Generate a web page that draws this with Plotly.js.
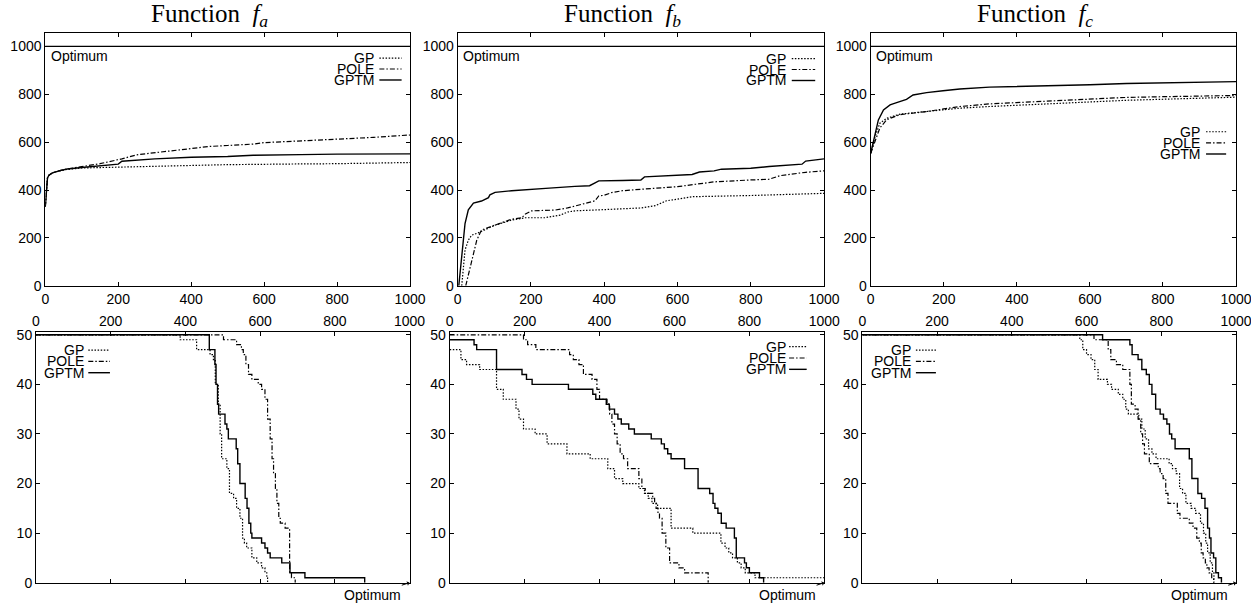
<!DOCTYPE html>
<html><head><meta charset="utf-8">
<script src="https://cdn.plot.ly/plotly-3.0.1.min.js"></script>
<style>html,body{margin:0;padding:0;background:#fff}#chart{width:1251px;height:606px}</style>
</head><body><div id="chart"></div>
<script>
// ---------- labels ----------
const seriesNames = ['GP', 'POLE', 'GPTM'];
const functionSubs = ['a', 'b', 'c'];
const optimumValue = 1000;
const optimumLabel = 'Optimum';
const xTickVals = [0, 200, 400, 600, 800, 1000];
const yTickValsTop = [0, 200, 400, 600, 800, 1000];
const yTickValsBottom = [0, 10, 20, 30, 40, 50];

// ---------- top row: best fitness vs generations ----------
// Function f_a
const faX    = [0, 3, 6, 10, 20, 40, 60, 100, 150, 200, 210, 250, 300, 400, 450, 500, 570, 600, 700, 800, 900, 1000];
const faGP   = [330, 420, 450, 462, 472, 480, 486, 492, 494, 496, 497, 499, 500, 504, 505, 506, 507, 508, 509, 510, 512, 515];
const faPOLE = [330, 420, 450, 462, 472, 481, 488, 498, 510, 527, 530, 547, 556, 572, 582, 586, 592, 598, 605, 615, 620, 630];
const faGPTM = [330, 420, 450, 462, 472, 481, 488, 494, 500, 508, 520, 525, 530, 537, 538, 540, 545, 545, 548, 550, 551, 551];

// Function f_b
const fbGPx    = [11, 20, 29, 38, 56, 75, 102, 147, 184, 238, 280, 300, 320, 400, 500, 540, 570, 600, 640, 800, 940, 1000];
const fbGP     = [0, 149, 190, 211, 221, 235, 253, 274, 284, 284, 295, 308, 313, 318, 325, 335, 355, 362, 372, 377, 382, 386];
const fbPOLEx  = [22, 34, 43, 52, 65, 102, 147, 175, 185, 202, 265, 300, 350, 375, 385, 400, 420, 450, 500, 600, 650, 700, 800, 850, 880, 950, 1000];
const fbPOLE   = [0, 80, 135, 190, 233, 253, 278, 284, 300, 313, 316, 325, 345, 355, 375, 378, 389, 397, 403, 414, 424, 434, 442, 445, 460, 474, 480];
const fbGPTMx  = [3, 9, 20, 29, 43, 65, 84, 88, 102, 147, 200, 250, 320, 360, 375, 385, 450, 500, 510, 600, 640, 660, 700, 720, 800, 850, 900, 940, 950, 1000];
const fbGPTM   = [0, 100, 260, 317, 345, 354, 368, 380, 390, 397, 404, 408, 415, 418, 430, 438, 440, 442, 455, 460, 465, 475, 480, 487, 491, 498, 505, 508, 521, 530];

// Function f_c
const fcX      = [0, 12, 25, 44, 80, 153, 244, 325, 400, 500, 600, 700, 800, 900, 1000];
const fcGP     = [553, 624, 679, 700, 717, 728, 742, 749, 755, 762, 768, 775, 780, 785, 788];
const fcPOLE   = [553, 603, 659, 694, 715, 728, 749, 760, 765, 772, 778, 787, 790, 792, 795];
const fcGPTMx  = [0, 12, 21, 35, 53, 71, 98, 116, 153, 198, 244, 325, 400, 500, 600, 700, 800, 900, 1000];
const fcGPTM   = [553, 637, 693, 735, 756, 765, 779, 797, 807, 815, 822, 830, 832, 836, 840, 845, 848, 851, 853];

// ---------- bottom row: runs not yet at optimum vs generations (steps) ----------
const baGPx   = [0, 386, 430, 466, 475, 480, 488, 493, 497, 511, 518, 529, 537, 546, 553, 558, 564, 578, 591, 604, 613, 618, 620];
const baGP    = [50, 49, 47, 46, 45, 40, 36, 30, 25, 23, 18, 17, 15, 13, 9, 8, 7, 5, 4, 3, 2, 1, 0];
const baPOLEx = [0, 502, 537, 550, 555, 562, 569, 578, 595, 604, 613, 620, 627, 632, 636, 641, 645, 650, 654, 667, 679, 684, 694];
const baPOLE  = [50, 49, 48, 47, 46, 44, 42, 41, 40, 39, 37, 33, 29, 25, 22, 19, 16, 13, 12, 11, 2, 1, 0];
const baGPTMx = [0, 464, 479, 482, 486, 489, 506, 511, 515, 536, 540, 546, 560, 565, 570, 575, 578, 604, 613, 620, 627, 658, 680, 720, 880];
const baGPTM  = [50, 47, 44, 40, 36, 34, 32, 31, 29, 27, 24, 20, 17, 15, 12, 10, 9, 8, 7, 6, 5, 4, 2, 1, 0];

const bbGPx   = [0, 30, 45, 80, 125, 143, 177, 185, 197, 228, 260, 313, 375, 422, 440, 462, 505, 520, 530, 540, 555, 591, 649, 724, 735, 745, 755, 768, 778, 789, 815, 1000];
const bbGP    = [47, 45, 44, 43, 39, 37, 35, 33, 31, 30, 28, 26, 25, 23, 21, 20, 19, 18, 17, 16, 15, 11, 10, 8, 7, 6, 5, 4, 3, 2, 1, 1];
const bbPOLEx = [0, 197, 208, 230, 320, 330, 345, 357, 380, 393, 400, 420, 427, 433, 440, 447, 455, 464, 475, 505, 513, 522, 542, 547, 551, 556, 560, 567, 577, 587, 612, 627, 690];
const bbPOLE  = [50, 49, 48, 47, 46, 45, 44, 42, 41, 39, 37, 36, 34, 32, 30, 28, 26, 25, 23, 21, 19, 18, 17, 16, 15, 14, 13, 10, 7, 4, 3, 2, 0];
const bbGPTMx = [0, 65, 72, 125, 193, 205, 220, 317, 382, 390, 418, 426, 440, 449, 458, 478, 493, 538, 565, 573, 582, 591, 627, 663, 694, 703, 708, 716, 725, 738, 760, 765, 787, 792, 800, 827, 838];
const bbGPTM  = [49, 48, 47, 43, 42, 41, 40, 39, 38, 37, 36, 35, 34, 33, 32, 31, 30, 29, 28, 27, 26, 25, 23, 19, 18, 16, 15, 14, 12, 11, 9, 5, 4, 3, 2, 1, 0];

const bcGPx   = [0, 582, 590, 600, 612, 622, 631, 656, 667, 685, 697, 705, 712, 740, 748, 757, 766, 775, 786, 821, 830, 840, 849, 857, 866, 880, 892, 905, 913, 919, 924, 931, 937, 941];
const bcGP    = [50, 49, 47, 46, 45, 43, 41, 40, 39, 38, 37, 35, 34, 33, 31, 29, 27, 26, 25, 24, 23, 22, 19, 18, 16, 15, 14, 12, 10, 8, 6, 4, 2, 0];
const bcPOLEx = [0, 620, 658, 665, 680, 697, 716, 720, 730, 738, 745, 750, 755, 768, 792, 797, 805, 812, 818, 843, 850, 875, 885, 895, 902, 907, 912, 918, 922, 928, 935, 940];
const bcPOLE  = [50, 49, 47, 45, 44, 43, 40, 36, 35, 33, 30, 28, 26, 24, 23, 22, 21, 18, 16, 14, 13, 12, 11, 9, 8, 6, 5, 4, 3, 2, 1, 0];
const bcGPTMx = [0, 643, 716, 722, 738, 748, 760, 768, 775, 785, 797, 806, 815, 822, 828, 837, 875, 882, 898, 908, 917, 924, 929, 933, 940, 946, 953, 961];
const bcGPTM  = [50, 49, 48, 46, 45, 43, 42, 40, 38, 35, 34, 33, 32, 30, 29, 27, 25, 21, 18, 17, 15, 11, 9, 6, 5, 2, 1, 0];

// ---------- styles ----------
const dashes = {GP: '1.5px,1.6px', POLE: '5px,2px,1.5px,2px', GPTM: 'solid'};
const widths = {GP: 1.2, POLE: 1.2, GPTM: 1.4};
const sansFont = 'Liberation Sans, Arial, Helvetica, sans-serif';
const tickSize = 14;

const topData = [
  {GP: [faX, faGP], POLE: [faX, faPOLE], GPTM: [faX, faGPTM]},
  {GP: [fbGPx, fbGP], POLE: [fbPOLEx, fbPOLE], GPTM: [fbGPTMx, fbGPTM]},
  {GP: [fcX, fcGP], POLE: [fcX, fcPOLE], GPTM: [fcGPTMx, fcGPTM]}
];
const bottomData = [
  {GP: [baGPx, baGP], POLE: [baPOLEx, baPOLE], GPTM: [baGPTMx, baGPTM]},
  {GP: [bbGPx, bbGP], POLE: [bbPOLEx, bbPOLE], GPTM: [bbGPTMx, bbGPTM]},
  {GP: [bcGPx, bcGP], POLE: [bcPOLEx, bcPOLE], GPTM: [bcGPTMx, bcGPTM]}
];

const traces = [];
function addTraces(set, axIdx, shape) {
  const sfx = axIdx === 1 ? '' : String(axIdx);
  seriesNames.forEach(n => {
    traces.push({
      type: 'scatter', mode: 'lines', name: n,
      x: set[n][0], y: set[n][1],
      xaxis: 'x' + sfx, yaxis: 'y' + sfx,
      line: {color: '#000', width: widths[n], dash: dashes[n], shape: shape},
      showlegend: false, hoverinfo: 'skip'
    });
  });
}
topData.forEach((s, i) => addTraces(s, i + 1, 'linear'));
bottomData.forEach((s, i) => addTraces(s, i + 4, 'hv'));

// ---------- layout geometry (pixels -> paper) ----------
const W = 1251, H = 606;
const topX = [[45.3, 410.0], [457.7, 824.0], [870.7, 1236.0]];
const botX = [[36.0, 409.5], [449.7, 824.3], [862.3, 1236.0]];
const topY = [33.3, 285.7];
const botY = [332.3, 582.7];
const px = v => v / W;
const py = v => (H - v) / H;

const layout = {
  width: W, height: H,
  margin: {l: 0, r: 0, t: 0, b: 0, pad: 0},
  paper_bgcolor: '#fff', plot_bgcolor: '#fff',
  showlegend: false,
  font: {family: sansFont, size: tickSize, color: '#000'},
  shapes: [], annotations: []
};

function axisBase() {
  return {
    showline: true, linecolor: '#000', linewidth: 1, mirror: 'ticks',
    ticks: 'inside', ticklen: 4, tickwidth: 1, tickcolor: '#000',
    showgrid: false, zeroline: false, fixedrange: true,
    ticklabeloverflow: 'allow',
    tickfont: {family: sansFont, size: tickSize, color: '#000'}
  };
}

const titleCenters = [209.5, 622.5, 1035];
for (let i = 0; i < 3; i++) {
  // top row axes
  const t = i + 1, ts = t === 1 ? '' : String(t);
  layout['xaxis' + ts] = Object.assign(axisBase(), {
    domain: [px(topX[i][0]), px(topX[i][1])], range: [0, 1000],
    tickvals: xTickVals, side: 'bottom', anchor: 'y' + ts
  });
  layout['yaxis' + ts] = Object.assign(axisBase(), {
    domain: [py(topY[1]), py(topY[0])], range: [0, 1055],
    tickvals: yTickValsTop, anchor: 'x' + ts
  });
  // bottom row axes
  const b = i + 4, bs = String(b);
  layout['xaxis' + bs] = Object.assign(axisBase(), {
    domain: [px(botX[i][0]), px(botX[i][1])], range: [0, 1000],
    tickvals: xTickVals, side: 'top', anchor: 'y' + bs
  });
  layout['yaxis' + bs] = Object.assign(axisBase(), {
    domain: [py(botY[1]), py(botY[0])], range: [0, 50.5],
    tickvals: yTickValsBottom, anchor: 'x' + bs
  });

  // optimum line in top panels
  layout.shapes.push({
    type: 'line', xref: 'x' + ts + ' domain', x0: 0, x1: 1,
    yref: 'y' + ts, y0: optimumValue, y1: optimumValue,
    line: {color: '#000', width: 1.2}
  });
  layout.annotations.push({
    xref: 'x' + ts + ' domain', yref: 'y' + ts + ' domain',
    x: 0.01, y: 0.91, xanchor: 'left', yanchor: 'middle',
    text: optimumLabel, showarrow: false,
    font: {family: sansFont, size: tickSize, color: '#000'}
  });

  // bottom panels optimum arrow label
  layout.annotations.push({
    xref: 'x' + bs, yref: 'y' + bs, x: 1000, y: 0,
    ax: -37, ay: 12, text: optimumLabel, showarrow: true,
    arrowhead: 1, arrowsize: 0.8, arrowwidth: 1, arrowcolor: '#000',
    standoff: 0, startstandoff: 0,
    font: {family: sansFont, size: tickSize, color: '#000'}
  });

  // titles
  layout.annotations.push({
    xref: 'paper', yref: 'paper', x: px(titleCenters[i]), y: py(16),
    xanchor: 'center', yanchor: 'middle', showarrow: false,
    text: 'Function  <i>f</i><sub><i>' + functionSubs[i] + '</i></sub>',
    font: {family: 'Liberation Serif, Times New Roman, serif', size: 25, color: '#000'}
  });
}

// ---------- custom gnuplot-style keys (text then line sample) ----------
// [axis suffix, text right edge, sample start, sample end, first row y, row step] in axis-domain fractions
const keys = [
  ['',  0.908, 0.916, 0.977, 0.902, 0.0435],
  ['2', 0.9025, 0.912, 0.976, 0.900, 0.0435],
  ['3', 0.908, 0.918, 0.973, 0.610, 0.0441],
  ['4', 0.134, 0.140, 0.198, 0.929, 0.0452],
  ['5', 0.902, 0.906, 0.953, 0.9425, 0.0452],
  ['6', 0.1346, 0.1434, 0.197, 0.929, 0.0452]
];
keys.forEach(k => {
  const [s, tx, sx0, sx1, y0, dy] = k;
  seriesNames.forEach((n, j) => {
    const yy = y0 - j * dy;
    layout.annotations.push({
      xref: 'x' + s + ' domain', yref: 'y' + s + ' domain',
      x: tx, y: yy, xanchor: 'right', yanchor: 'middle', showarrow: false,
      text: n, font: {family: sansFont, size: tickSize, color: '#000'}
    });
    layout.shapes.push({
      type: 'line', xref: 'x' + s + ' domain', yref: 'y' + s + ' domain',
      x0: sx0, x1: sx1, y0: yy, y1: yy,
      line: {color: '#000', width: widths[n], dash: dashes[n]}
    });
  });
});

Plotly.newPlot('chart', traces, layout, {displayModeBar: false, staticPlot: true});
</script>
</body></html>
